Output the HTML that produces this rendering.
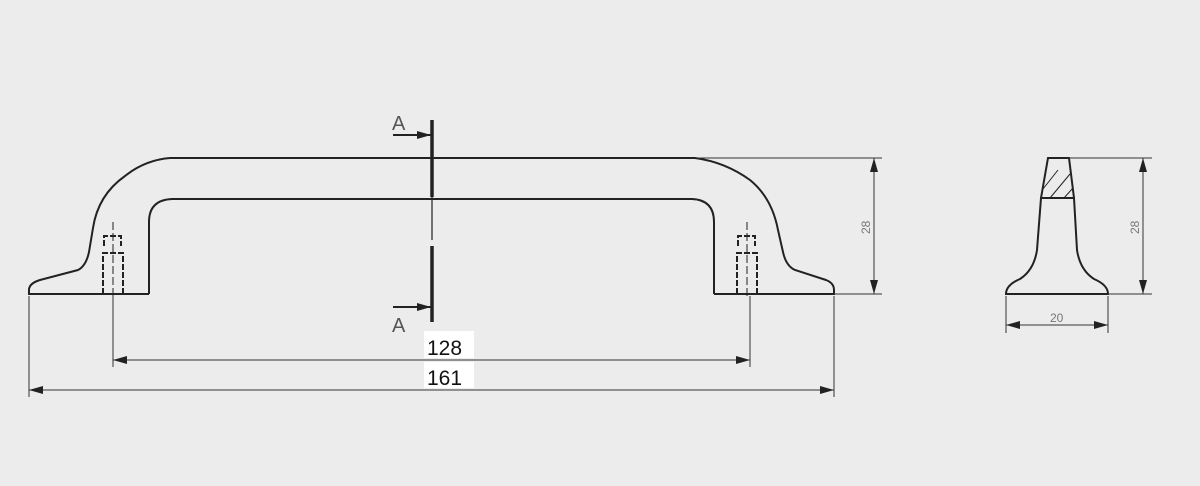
<!DOCTYPE html>
<html><head><style>
html,body{margin:0;padding:0;background:#ececec;}
svg{display:block}
text{font-family:"Liberation Sans",sans-serif;}
</style></head><body>
<svg width="1200" height="486" viewBox="0 0 1200 486" xmlns="http://www.w3.org/2000/svg">
<rect width="1200" height="486" fill="#ececec"/>
<defs>
<marker id="arb" viewBox="0 0 14 8" refX="14" refY="4" markerWidth="14" markerHeight="8" orient="auto-start-reverse" markerUnits="userSpaceOnUse"><path d="M0,0 L14,4 L0,8 Z" fill="#222"/></marker>
</defs>
<g fill="none" stroke="#222" stroke-width="2">
<path d="M149,294 L29,294 L29,289 Q30,283 40,280 L78,270 Q86,266 89,252 L93,228 Q98,195 125,176 Q145,160 170,158 L695,158 Q725,162 750,180 Q772,198 778,230 L783,252 Q786,266 795,270 L826,280 Q834,283 834,290 L834,294 L714,294"/>
<path d="M149,294 L149,222 Q149,200 172,199 L692,199 Q714,200 714,222 L714,294"/>
<path d="M1048,158 L1069,158 L1074,198 L1077,250 Q1080,270 1094,279 Q1108,285 1108,294 L1006,294 Q1006,285 1020,279 Q1034,270 1037,250 L1041,198 Z"/>
<line x1="1041" y1="198" x2="1074" y2="198"/>
</g>
<g stroke="#222" stroke-width="1">
<line x1="1043" y1="189" x2="1058" y2="170"/>
<line x1="1050" y1="198" x2="1070" y2="174"/>
<line x1="1064" y1="198" x2="1073" y2="188"/>
</g>
<g fill="none" stroke="#222" stroke-width="2" stroke-dasharray="6,2">
<path d="M104,246 L104,236 L121,236 L121,246"/>
<path d="M103,294 L103,253 L123,253 L123,294"/>
<path d="M738,246 L738,236 L755,236 L755,246"/>
<path d="M737,294 L737,253 L757,253 L757,294"/>
</g>
<g stroke="#222" stroke-width="1" stroke-dasharray="8,3">
<line x1="113" y1="222" x2="113" y2="296"/>
<line x1="747" y1="222" x2="747" y2="296"/>
</g>
<g stroke="#333" stroke-width="1" fill="none">
<line x1="113" y1="296" x2="113" y2="367"/>
<line x1="750" y1="296" x2="750" y2="367"/>
<line x1="29" y1="296" x2="29" y2="397"/>
<line x1="834" y1="296" x2="834" y2="397"/>
<line x1="113" y1="360" x2="750" y2="360" marker-start="url(#arb)" marker-end="url(#arb)"/>
<line x1="29" y1="390" x2="834" y2="390" marker-start="url(#arb)" marker-end="url(#arb)"/>
<line x1="697" y1="158" x2="882" y2="158"/>
<line x1="834" y1="294" x2="882" y2="294"/>
<line x1="874" y1="158" x2="874" y2="294" marker-start="url(#arb)" marker-end="url(#arb)"/>
<line x1="1068" y1="158" x2="1152" y2="158"/>
<line x1="1108" y1="294" x2="1152" y2="294"/>
<line x1="1143" y1="158" x2="1143" y2="294" marker-start="url(#arb)" marker-end="url(#arb)"/>
<line x1="1006" y1="296" x2="1006" y2="333"/>
<line x1="1108" y1="296" x2="1108" y2="333"/>
<line x1="1006" y1="325" x2="1108" y2="325" marker-start="url(#arb)" marker-end="url(#arb)"/>
</g>
<g stroke="#222" fill="none">
<line x1="432" y1="120" x2="432" y2="197" stroke-width="3.5"/>
<line x1="432" y1="197" x2="432" y2="240" stroke-width="1.2"/>
<line x1="432" y1="246" x2="432" y2="322" stroke-width="3.5"/>
<line x1="393" y1="135" x2="431" y2="135" stroke-width="2" marker-end="url(#arb)"/>
<line x1="393" y1="307" x2="431" y2="307" stroke-width="2" marker-end="url(#arb)"/>
</g>
<text x="392" y="130" font-size="20" fill="#555">A</text>
<text x="392" y="332" font-size="20" fill="#555">A</text>
<rect x="424" y="331" width="50" height="27" fill="#fff"/>
<rect x="424" y="362" width="50" height="26" fill="#fff"/>
<text x="427" y="355" font-size="21" fill="#111">128</text>
<text x="427" y="385" font-size="21" fill="#111">161</text>
<text x="0" y="0" font-size="12" fill="#777" transform="translate(870,234) rotate(-90)">28</text>
<text x="0" y="0" font-size="12" fill="#777" transform="translate(1139,234) rotate(-90)">28</text>
<text x="1050" y="322" font-size="12" fill="#777">20</text>
</svg>
</body></html>
